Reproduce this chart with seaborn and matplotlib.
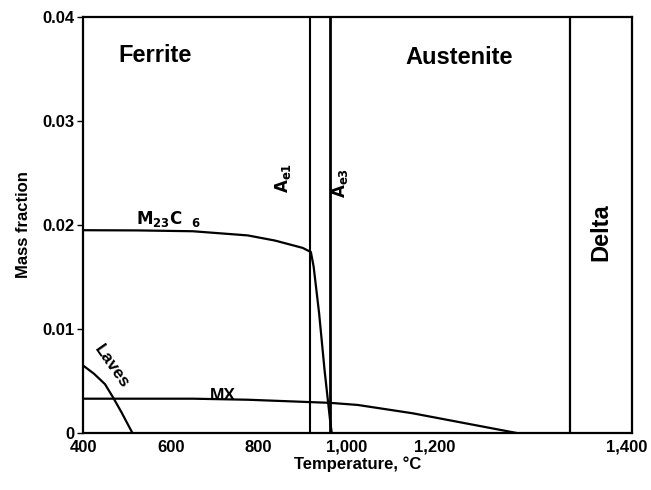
import numpy as np
import pandas as pd
import seaborn as sns
import matplotlib.pyplot as plt

# phase fraction curves (temperature in C, mass fraction)
m23c6_temp = [400, 500, 600, 650, 700, 750, 800, 815, 820, 830, 840, 850, 853]
m23c6_frac = [0.0195, 0.01948, 0.0194, 0.0192, 0.0190, 0.0185, 0.0178, 0.0174,
              0.0160, 0.0115, 0.0060, 0.0012, 0.0]

mx_temp = [400, 600, 700, 800, 850, 900, 950, 1000, 1050, 1100, 1150, 1190]
mx_frac = [0.0033, 0.0033, 0.0032, 0.0030, 0.0029, 0.0027, 0.0023, 0.0019,
           0.0014, 0.0009, 0.0004, 0.0]

laves_temp = [400, 420, 440, 455, 470, 485, 490]
laves_frac = [0.0065, 0.0057, 0.0047, 0.0034, 0.0020, 0.0005, 0.0]

# phase boundaries
ae1 = 813
ae3 = 850
delta_start = 1287

# tick labels as printed on the figure (x positions are where they sit)
xtick_pos = [400, 560, 720, 880, 1040, 1390]
xtick_labels = ["400", "600", "800", "1,000", "1,200", "1,400"]
ytick_pos = [0, 0.01, 0.02, 0.03, 0.04]
ytick_labels = ["0", "0.01", "0.02", "0.03", "0.04"]

curves = pd.concat([
    pd.DataFrame({"T": m23c6_temp, "f": m23c6_frac, "phase": "M23C6"}),
    pd.DataFrame({"T": mx_temp, "f": mx_frac, "phase": "MX"}),
    pd.DataFrame({"T": laves_temp, "f": laves_frac, "phase": "Laves"}),
])

sns.set_style("white")
plt.rcParams['font.family'] = ['Liberation Sans', 'DejaVu Sans']
plt.rcParams['text.color'] = 'black'
plt.rcParams['xtick.color'] = 'black'
plt.rcParams['ytick.color'] = 'black'
plt.rcParams['axes.labelcolor'] = 'black'

fig = plt.figure(figsize=(6.51, 4.9), dpi=100)
ax = fig.add_axes([0.1275, 0.1163, 0.8435, 0.8490])

sns.lineplot(data=curves, x="T", y="f", units="phase", estimator=None,
             sort=False, color="black", lw=1.6, ax=ax)

for t, lw in [(ae1, 1.5), (ae3, 2.0), (delta_start, 1.6)]:
    ax.axvline(t, color="black", lw=lw)

ax.set_xlim(400, 1400)
ax.set_ylim(0, 0.04)
ax.set_xticks(xtick_pos)
ax.set_xticklabels(xtick_labels, fontweight="bold", fontsize=12)
ax.set_yticks(ytick_pos)
ax.set_yticklabels(ytick_labels, fontweight="bold", fontsize=12)
ax.tick_params(axis="x", length=0, pad=5)
ax.tick_params(axis="y", length=4, width=1, direction="out", left=True, pad=2)
for s in ax.spines.values():
    s.set_color("black")
    s.set_linewidth(1.6)

ax.set_xlabel("Temperature, \u00b0C", fontweight="bold", fontsize=12, labelpad=1)
ax.set_ylabel("Mass fraction", fontweight="bold", fontsize=12, labelpad=8)

# region and phase labels
ax.text(531, 0.0363, "Ferrite", fontsize=17, fontweight="bold", ha="center", va="center")
ax.text(1085, 0.0361, "Austenite", fontsize=17, fontweight="bold", ha="center", va="center")
ax.text(1343, 0.0193, "Delta", fontsize=17, fontweight="bold", rotation=90,
        ha="center", va="center")
ax.text(765, 0.0245, r"$\mathbf{A_{e1}}$", fontsize=12, rotation=90, ha="center", va="center")
ax.text(868, 0.0240, r"$\mathbf{A_{e3}}$", fontsize=12, rotation=90, ha="center", va="center")
ax.text(555, 0.0206, r"$\mathbf{M_{23}C}$  $_{\mathbf{6}}$", fontsize=12,
        ha="center", va="center")
ax.text(453, 0.0064, "Laves", fontsize=12.5, fontweight="bold", rotation=-55,
        ha="center", va="center")
ax.text(655, 0.0036, "MX", fontsize=12.5, fontweight="bold", ha="center", va="center")

fig.savefig("out.png", dpi=100, facecolor="white")
